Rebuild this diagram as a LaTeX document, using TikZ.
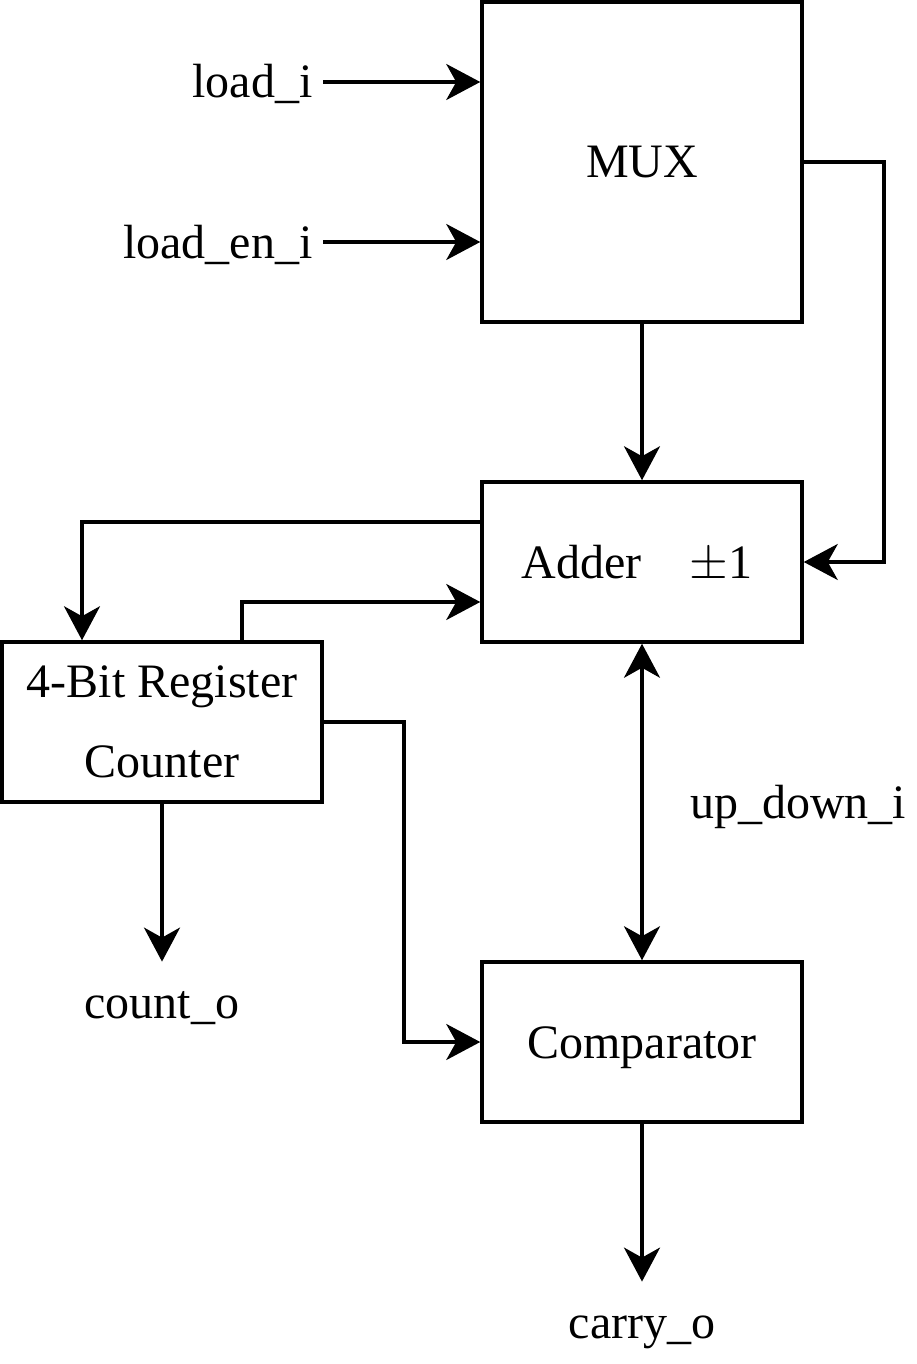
\documentclass[tikz,border=0pt]{standalone}
\usepackage{fontspec}
\setmainfont{Liberation Serif}
\usetikzlibrary{arrows.meta,positioning}

\tikzset{
  block/.style={draw=black, line width=1.75pt, minimum width=160pt, minimum height=80pt, inner sep=0pt},
  line/.style={text height=16pt, text depth=0pt},
  sig/.style={line, inner xsep=5pt, inner ysep=12pt},
  wire/.style={line width=1.75pt, -{Stealth[length=17pt,width=18pt,inset=5pt]}},
}

\begin{document}
\begin{tikzpicture}[x=0.5pt, y=-0.5pt, font=\fontsize{24}{29}\selectfont]
      \useasboundingbox (0,0) rectangle (916,1364);

      \node[block, line, name=mux, minimum height=160pt] at (642,162) {MUX};
      \node[block, line, name=adder] at (642,562) {Adder\hspace{24pt}$\pm$1\kern5pt};
      \node[block, name=reg, align=center, font=\fontsize{24}{40}\selectfont] at (162,722) {4-Bit Register\\Counter};
      \node[block, line, name=comp] at (642,1042) {Comparator};

      \node[sig, name=loadi, anchor=east] at (323,82) {load\_i};
      \node[sig, name=loaden, anchor=east] at (323,242) {load\_en\_i};
      \node[sig, name=counto] at (162,1002) {count\_o};
      \node[sig, name=carryo] at (642,1322) {carry\_o};
      \node[sig, name=updown] at (798,802) {up\_down\_i};

      \path[wire]
         (loadi.east) edge (loadi.east -| mux.west)
         (loaden.east) edge (loaden.east -| mux.west)
         (mux.south) edge (adder.north)
         (reg.south) edge (counto.north)
         (comp.south) edge (carryo.north);

      \draw[wire, {Stealth[length=17pt,width=18pt,inset=5pt]}-{Stealth[length=17pt,width=18pt,inset=5pt]}]
         (adder.south) -- (comp.north);

      \draw[wire] (mux.east) -- ++(80,0) |- (adder.east);
      \draw[wire] ([yshift=20pt]adder.west) -| ([xshift=-40pt]reg.north);
      \draw[wire] ([xshift=40pt]reg.north) |- ([yshift=-20pt]adder.west);
      \draw[wire] (reg.east) -- ++(80,0) |- (comp.west);
   \end{tikzpicture}
\end{document}
